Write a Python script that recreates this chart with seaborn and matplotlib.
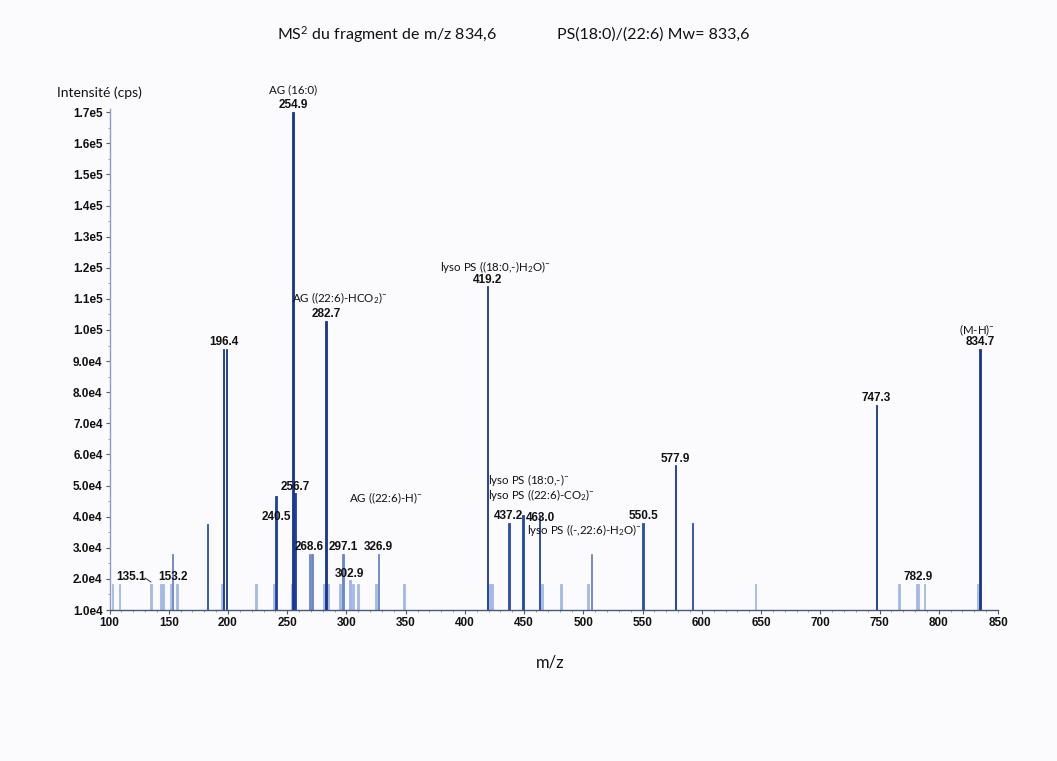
import numpy as np
import pandas as pd
import matplotlib
matplotlib.use("Agg")
import matplotlib.pyplot as plt
import seaborn as sns
from matplotlib.ticker import MultipleLocator, FixedLocator, FuncFormatter

# ---------------- data ----------------
mz = [102.5, 108.4, 135.1, 143.6, 145.3, 151.6, 153.2, 157.0, 182.5, 195.0,
      196.4, 199.0, 223.5, 239.0, 240.5, 253.5, 254.9, 256.7, 268.6, 270.8,
      281.0, 282.7, 284.3, 294.6, 297.1, 302.9, 305.6, 309.8, 324.8, 326.9,
      348.5, 419.2, 421.0, 423.0, 437.2, 449.0, 463.0, 465.2, 481.0, 504.0,
      507.0, 550.5, 577.9, 592.0, 645.5, 747.3, 766.5, 781.7, 782.9, 788.0,
      832.8, 834.7]
intensity = [1.85e4, 1.85e4, 1.85e4, 1.85e4, 1.85e4, 1.85e4, 2.8e4, 1.85e4, 3.75e4, 1.85e4,
             9.4e4, 9.4e4, 1.85e4, 1.85e4, 4.65e4, 1.85e4, 1.70e5, 4.75e4, 2.8e4, 2.8e4,
             1.85e4, 1.03e5, 1.85e4, 1.85e4, 2.8e4, 1.95e4, 1.85e4, 1.85e4, 1.85e4, 2.8e4,
             1.85e4, 1.14e5, 1.85e4, 1.85e4, 3.8e4, 4.05e4, 4.05e4, 1.85e4, 1.85e4, 1.85e4,
             2.8e4, 3.8e4, 5.65e4, 3.8e4, 1.85e4, 7.6e4, 1.85e4, 1.85e4, 1.85e4, 1.85e4,
             1.85e4, 9.4e4]

# peaks labelled just above their tops
top_labels = ["196.4", "254.9", "256.7", "268.6", "282.7", "297.1", "302.9",
              "326.9", "419.2", "437.2", "550.5", "577.9", "747.3", "782.9", "834.7"]
# peaks whose labels sit on a free position (text, m/z, intensity)
free_labels = [("240.5", 240.5, 3.99e4), ("153.2", 153.6, 2.06e4),
               ("135.1", 118.1, 2.06e4), ("463.0", 463.4, 3.96e4)]
# ion assignments (text, m/z, intensity, alignment)
ion_labels = [("AG (16:0)", 254.9, 1.772e5, "center"),
              ("AG ((22:6)-HCO$_2$)$^{-}$", 294.6, 1.103e5, "center"),
              ("lyso PS ((18:0,-)H$_2$O)$^{-}$", 425.6, 1.203e5, "center"),
              ("(M-H)$^{-}$", 832.3, 1.00e5, "center"),
              ("AG ((22:6)-H)$^{-}$", 333.6, 4.60e4, "center"),
              ("lyso PS (18:0,-)$^{-}$", 419.4, 5.17e4, "left"),
              ("lyso PS ((22:6)-CO$_2$)$^{-}$", 419.4, 4.71e4, "left"),
              ("lyso PS ((-,22:6)-H$_2$O)$^{-}$", 452.8, 3.57e4, "left")]

x_ticks = list(range(100, 851, 50))
y_ticks = [1e4 * k for k in range(1, 18)]

# ---------------- style ----------------
sns.set_theme(style="ticks")
plt.rcParams['font.family'] = ['Liberation Sans', 'DejaVu Sans']
plt.rcParams['mathtext.fontset'] = 'custom'
plt.rcParams['mathtext.rm'] = 'Lato'
plt.rcParams['mathtext.it'] = 'Lato:italic'
plt.rcParams['mathtext.bf'] = 'Lato:bold'
plt.rcParams['mathtext.default'] = 'regular'

bg = '#fbfbfd'
fig = plt.figure(figsize=(10.57, 7.61), dpi=100, facecolor=bg)
ax = fig.add_axes([0.1036, 0.1984, 0.8406, 0.6583])
ax.set_facecolor(bg)

df = pd.DataFrame({"mz": mz, "intensity": intensity})
cmap = sns.blend_palette(['#a8bce8', '#2448a8', '#1a3690'], as_cmap=True)
sns.barplot(data=df, x="mz", y="intensity", hue="intensity", palette=cmap,
            hue_norm=(1.8e4, 6.0e4), native_scale=True, dodge=False,
            width=1.0, saturation=1, legend=False, ax=ax, errorbar=None)
for p in ax.patches:
    p.set_edgecolor(p.get_facecolor())
    p.set_linewidth(0.6)

ax.set_xlim(100, 850)
ax.set_ylim(1e4, 1.71e5)
ax.xaxis.set_major_locator(FixedLocator(x_ticks))
ax.xaxis.set_minor_locator(MultipleLocator(10))
ax.yaxis.set_major_locator(FixedLocator(y_ticks))
ax.yaxis.set_minor_locator(MultipleLocator(5e3))


def fmt(v, pos):
    e = int(np.floor(np.log10(v) + 1e-9))
    return f"{v / 10 ** e:.1f}e{e}"


ax.yaxis.set_major_formatter(FuncFormatter(fmt))
ax.xaxis.set_major_formatter(FuncFormatter(lambda v, p: f"{int(v)}"))
ax.set_xlabel("")
ax.set_ylabel("")
for lab in ax.get_xticklabels() + ax.get_yticklabels():
    lab.set_fontweight('bold')
ax.tick_params(axis='both', which='major', direction='out', length=3, width=0.8,
               labelsize=8.5, pad=2, colors='#555a70', labelcolor='#111111')
ax.tick_params(axis='both', which='minor', direction='out', length=1.5, width=0.6,
               colors='#8090b0')
sns.despine(ax=ax)
ax.spines['left'].set_color('#8c9cc4')
ax.spines['bottom'].set_color('#4a5878')
ax.spines['left'].set_linewidth(1.0)
ax.spines['bottom'].set_linewidth(1.0)

lookup = dict(zip([f"{m:.1f}" for m in mz], zip(mz, intensity)))
for lab in top_labels:
    x, y = lookup[lab]
    ax.annotate(lab, xy=(x, y), xytext=(0, 0.5), textcoords='offset points',
                ha='center', va='bottom', fontsize=8.5, fontweight='bold',
                color='#111111', annotation_clip=False)
for lab, x, y in free_labels:
    ax.text(x, y, lab, ha='center', va='center', fontsize=8.5,
            fontweight='bold', color='#111111')
ax.plot([130.0, 135.0], [2.03e4, 1.90e4], color='#333333', lw=0.7)

for txt, x, y, ha in ion_labels:
    ax.text(x, y, txt, ha=ha, va='center', fontsize=8.3, family=['Lato', 'DejaVu Sans'],
            color='#111111', clip_on=False)

fig.text(277 / 1057, 1 - 35 / 761, "MS$^{2}$ du fragment de m/z 834,6", ha='left',
         va='center', fontsize=11.5, family=['Lato', 'DejaVu Sans'], color='#111111')
fig.text(557 / 1057, 1 - 35 / 761, "PS(18:0)/(22:6) Mw= 833,6", ha='left',
         va='center', fontsize=11.5, family=['Lato', 'DejaVu Sans'], color='#111111')
fig.text(57 / 1057, 1 - 93 / 761, "Intensité (cps)", ha='left', va='center',
         fontsize=10, family=['Lato', 'DejaVu Sans'], color='#111111')
fig.text(550 / 1057, 1 - 663 / 761, "m/z", ha='center', va='center',
         fontsize=12, family=['Lato', 'DejaVu Sans'], color='#111111')

fig.savefig("out.png", dpi=100, facecolor=bg)
